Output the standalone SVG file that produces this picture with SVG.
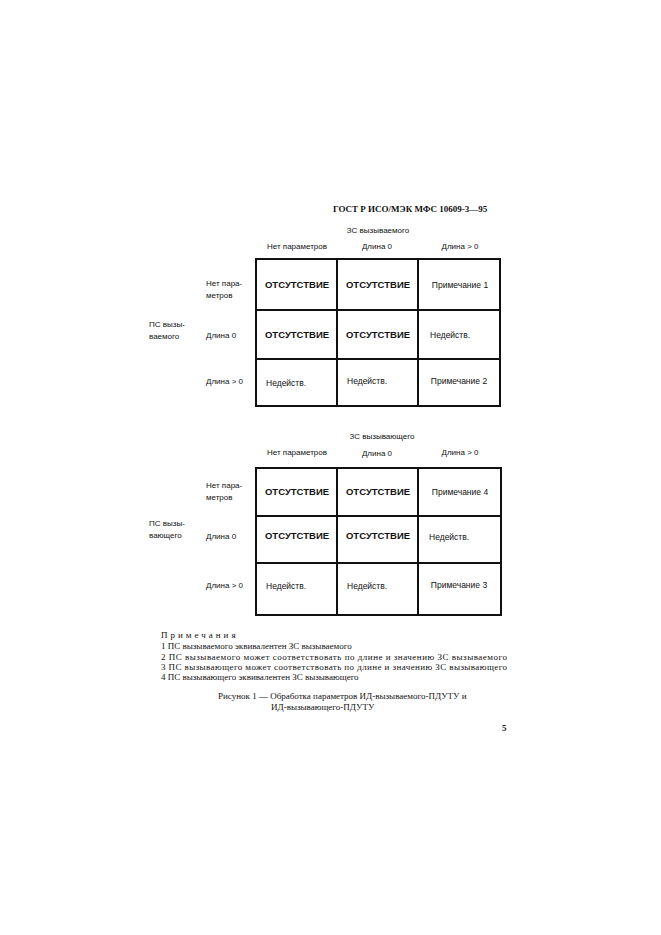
<svg xmlns="http://www.w3.org/2000/svg" width="661" height="935" viewBox="0 0 661 935">
<style>
.s{font-family:"Liberation Sans",Arial,sans-serif;font-size:8px;fill:#111}
.b{font-family:"Liberation Sans",Arial,sans-serif;font-size:9.5px;font-weight:bold;fill:#111}
.c{font-family:"Liberation Sans",Arial,sans-serif;font-size:8.5px;fill:#111}
.t{font-family:"Liberation Serif","Times New Roman",serif;font-size:9px;fill:#111}
.g{fill:none;stroke:#111;stroke-width:2}
.m{text-anchor:middle}
</style>
<rect width="661" height="935" fill="#fff"/>
<text class="t" x="333" y="212" font-weight="bold" font-size="10">ГОСТ Р ИСО/МЭК МФС 10609-3—95</text>
<g id="table1">
<text class="s m" x="378" y="233">ЗС вызываемого</text>
<text class="s m" x="297" y="249">Нет параметров</text>
<text class="s m" x="377" y="249">Длина 0</text>
<text class="s m" x="460" y="249">Длина &gt; 0</text>
<path class="g" d="M256 259H500V406H256Z M337 259V406 M418 259V406 M256 310H500 M256 359H500"/>
<text class="s" x="206" y="286">Нет пара-</text><text class="s" x="206" y="298">метров</text>
<text class="s" x="149" y="327">ПС вызы-</text><text class="s" x="149" y="339">ваемого</text>
<text class="s" x="206" y="338">Длина 0</text>
<text class="s" x="206" y="384">Длина &gt; 0</text>
<text class="b m" x="297" y="288">ОТСУТСТВИЕ</text>
<text class="b m" x="378" y="288">ОТСУТСТВИЕ</text>
<text class="c m" x="460" y="288">Примечание 1</text>
<text class="b m" x="297" y="338">ОТСУТСТВИЕ</text>
<text class="b m" x="378" y="338">ОТСУТСТВИЕ</text>
<text class="c" x="430" y="338">Недейств.</text>
<text class="c" x="266" y="386">Недейств.</text>
<text class="c" x="347" y="384">Недейств.</text>
<text class="c m" x="459" y="384">Примечание 2</text>
</g>
<g id="table2">
<text class="s m" x="382" y="439">ЗС   вызывающего</text>
<text class="s m" x="297" y="455">Нет параметров</text>
<text class="s m" x="377" y="456">Длина 0</text>
<text class="s m" x="460" y="455">Длина &gt; 0</text>
<path class="g" d="M256 468H501V615H256Z M337 468V615 M418 468V615 M256 516H501 M256 563H501"/>
<text class="s" x="206" y="488">Нет пара-</text><text class="s" x="206" y="500">метров</text>
<text class="s" x="149" y="526">ПС вызы-</text><text class="s" x="149" y="538">вающего</text>
<text class="s" x="206" y="539">Длина 0</text>
<text class="s" x="206" y="588">Длина &gt; 0</text>
<text class="b m" x="297" y="495">ОТСУТСТВИЕ</text>
<text class="b m" x="378" y="495">ОТСУТСТВИЕ</text>
<text class="c m" x="460" y="495">Примечание 4</text>
<text class="b m" x="297" y="539">ОТСУТСТВИЕ</text>
<text class="b m" x="378" y="539">ОТСУТСТВИЕ</text>
<text class="c" x="429" y="540">Недейств.</text>
<text class="c" x="266" y="589">Недейств.</text>
<text class="c" x="347" y="589">Недейств.</text>
<text class="c m" x="459" y="588">Примечание 3</text>
</g>
<g id="notes">
<text class="t" x="161" y="638" letter-spacing="3">Примечания</text>
<text class="t" x="161" y="649" font-size="8">1 ПС вызываемого эквивалентен ЗС вызываемого</text>
<text class="t" x="161" y="660" font-size="8" textLength="346">2 ПС вызываемого может соответствовать по длине и значению ЗС вызываемого</text>
<text class="t" x="161" y="670" font-size="8" textLength="346">3 ПС вызывающего может соответствовать по длине и значению ЗС вызывающего</text>
<text class="t" x="161" y="680" font-size="8">4 ПС вызывающего эквивалентен ЗС вызывающего</text>
<text class="t" x="218" y="699">Рисунок 1 — Обработка параметров ИД-вызываемого-ПДУТУ и</text>
<text class="t" x="271" y="710">ИД-вызывающего-ПДУТУ</text>
<text class="t" x="502" y="731" font-weight="bold">5</text>
</g>
</svg>
